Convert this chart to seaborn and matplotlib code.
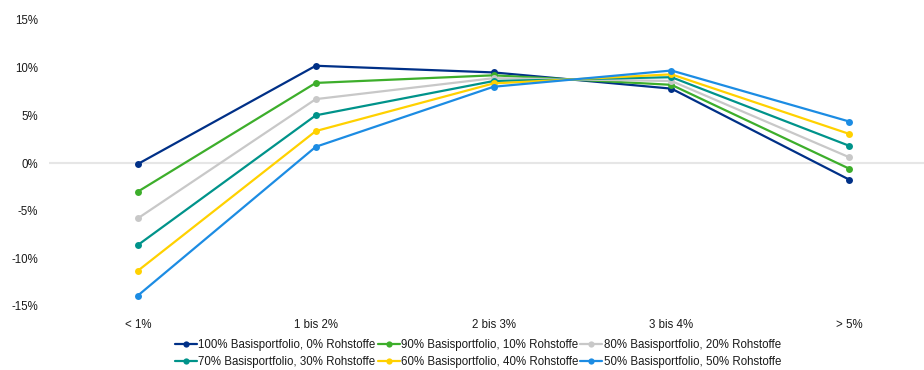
import matplotlib
matplotlib.use("Agg")
import matplotlib.pyplot as plt
from matplotlib.lines import Line2D
from matplotlib.ticker import FuncFormatter
import seaborn as sns
import pandas as pd

categories = ["< 1%", "1 bis 2%", "2 bis 3%", "3 bis 4%", "> 5%"]
series_names = [
    "100% Basisportfolio, 0% Rohstoffe",
    "90% Basisportfolio, 10% Rohstoffe",
    "80% Basisportfolio, 20% Rohstoffe",
    "70% Basisportfolio, 30% Rohstoffe",
    "60% Basisportfolio, 40% Rohstoffe",
    "50% Basisportfolio, 50% Rohstoffe",
]
s100 = [-0.1, 10.2, 9.5, 7.8, -1.75]
s90 = [-3.0, 8.4, 9.2, 8.2, -0.6]
s80 = [-5.8, 6.7, 8.9, 8.6, 0.6]
s70 = [-8.6, 5.0, 8.6, 9.0, 1.8]
s60 = [-11.3, 3.35, 8.35, 9.3, 3.05]
s50 = [-13.9, 1.7, 8.0, 9.7, 4.35]
colors = ["#003087", "#3DAE2B", "#C8C8C8", "#00938A", "#FFD100", "#1C8CE3"]

values = [s100, s90, s80, s70, s60, s50]
rows = []
for name, vals in zip(series_names, values):
    for i, (cat, v) in enumerate(zip(categories, vals)):
        rows.append({"pos": i, "Kategorie": cat, "Rendite": v, "Portfolio": name})
df = pd.DataFrame(rows)

sns.set_theme(style="white")
plt.rcParams["font.family"] = ["Liberation Sans", "DejaVu Sans"]

FS = 8.3
fig = plt.figure(figsize=(9.24, 3.70), dpi=100)
ax = fig.add_axes([49 / 924, 1 - 306 / 370, 1 - 49 / 924, 286 / 370])

ax.axhline(0, color="#E6E6E6", lw=1.5, zorder=0)

palette = dict(zip(series_names, colors))
sns.lineplot(
    data=df, x="pos", y="Rendite", hue="Portfolio", hue_order=series_names,
    palette=palette, marker="o", markersize=5, markeredgewidth=0,
    linewidth=1.6, sort=False, legend=False, ax=ax,
)

ax.set_xlim(-0.5, 4.42)
ax.set_ylim(-15, 15)
ax.set_yticks([-15, -10, -5, 0, 5, 10, 15])
ax.yaxis.set_major_formatter(FuncFormatter(lambda v, p: f"{v:.0f}%"))
ax.set_xticks(range(len(categories)))
ax.set_xticklabels(categories)
ax.set_xlabel("")
ax.set_ylabel("")
ax.tick_params(axis="both", length=0, labelsize=FS, colors="#1a1a1a")
ax.tick_params(axis="y", pad=8)
ax.tick_params(axis="x", pad=9)
for sp in ax.spines.values():
    sp.set_visible(False)
ax.grid(False)

handles = [
    Line2D([0], [0], color=c, lw=1.6, marker="o", markersize=4.5, markeredgewidth=0)
    for c in colors
]
# legend fills column by column; reorder so entries read row by row
order = [0, 3, 1, 4, 2, 5]
leg = fig.legend(
    [handles[i] for i in order], [series_names[i] for i in order],
    loc="center", bbox_to_anchor=(478 / 924, 1 - 353.5 / 370), ncol=3,
    frameon=False, fontsize=FS, handlelength=1.9, handletextpad=0.1,
    columnspacing=0.2, labelspacing=0.45, borderaxespad=0,
)
for t in leg.get_texts():
    t.set_color("#1a1a1a")

fig.savefig("out.png", dpi=100)
